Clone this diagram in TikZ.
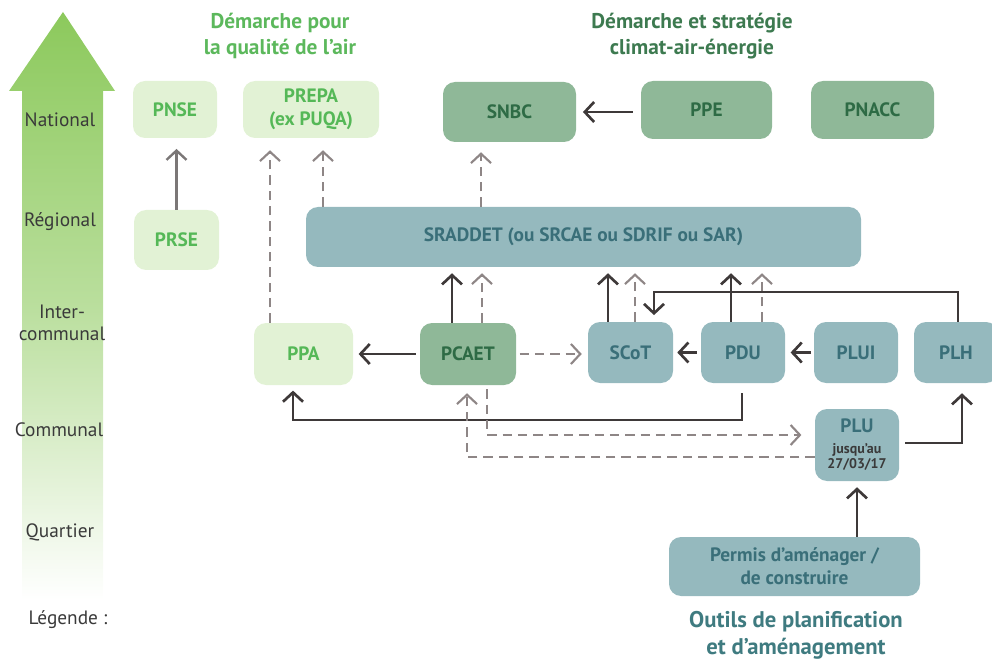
\documentclass[tikz,border=0pt]{standalone}
\usepackage{fontspec}
\setmainfont{PT Sans}
\usetikzlibrary{arrows.meta}
\definecolor{lgfill}{HTML}{E2F2D5}
\definecolor{lgtext}{HTML}{55B857}
\definecolor{mgfill}{HTML}{8FB898}
\definecolor{mgtext}{HTML}{2E6B45}
\definecolor{tlfill}{HTML}{95B9BE}
\definecolor{tltext}{HTML}{3A6F79}
\definecolor{hone}{HTML}{5CB85C}
\definecolor{htwo}{HTML}{3D7A50}
\definecolor{hthree}{HTML}{3F7B80}
\definecolor{arrdark}{HTML}{3E3939}
\definecolor{arrgray}{HTML}{8E8686}
\definecolor{arrlight}{HTML}{7B7777}
\definecolor{biggreen}{HTML}{8CC95C}
\definecolor{lvltext}{HTML}{3A3A3A}
\begin{document}
\begin{tikzpicture}[x=0.75pt,y=-0.75pt,
  box/.style={rounded corners=9pt, inner sep=0pt, align=center,
    font=\bfseries\fontsize{14.5}{17}\selectfont},
  lg/.style={box, fill=lgfill, text=lgtext},
  mg/.style={box, fill=mgfill, text=mgtext},
  tl/.style={box, fill=tlfill, text=tltext},
  sz/.style 2 args={minimum width=#1*0.75pt, minimum height=#2*0.75pt},
  lvl/.style={text=lvltext, align=center, font=\fontsize{14.5}{16.5}\selectfont},
  hdr/.style={align=center, font=\bfseries\fontsize{16}{20}\selectfont},
  solidarr/.style={draw=arrdark, line width=2pt, -{Straight Barb[length=7pt,width=15pt]}},
  lightarr/.style={draw=arrlight, line width=1.8pt, -{Straight Barb[length=7pt,width=15pt]}},
  dasharr/.style={draw=arrgray, line width=1.6pt, dash pattern=on 7pt off 4.5pt, -{Straight Barb[length=7pt,width=15pt]}}
]
\useasboundingbox (0,0) rectangle (992,659);
\clip (0,0) rectangle (992,659);

% big level arrow
\shade[top color=biggreen, bottom color=white, middle color=biggreen!60]
  (63,12) -- (115,91) -- (103,91) -- (103,600) -- (22,600) -- (22,91) -- (9,91) -- cycle;

% level labels
\node[lvl] (nat) at (60,120) {National};
\node[lvl] (reg) at (60,222) {Régional};
\node[lvl] (inter) at (62,323) {Inter-\\communal};
\node[lvl] (com) at (59,430) {Communal};
\node[lvl] (quart) at (60,532) {Quartier};
\node[lvl] (leg) at (68,620) {Légende :};

% headers
\node[hdr, text=hone] (h1) at (280,36) {Démarche pour\\la qualité de l’air};
\node[hdr, text=htwo] (h2) at (692,36) {Démarche et stratégie\\climat-air-énergie};
\node[hdr, text=hthree, font=\bfseries\fontsize{17}{20}\selectfont] (h3) at (796,635) {Outils de planification\\et d’aménagement};

% nodes
\node[lg, sz={84}{57}] (PNSE) at (175,109.5) {PNSE};
\node[lg, sz={136}{57}] (PREPA) at (311,109.5) {PREPA\\(ex PUQA)};
\node[lg, sz={85}{60}] (PRSE) at (176.5,240) {PRSE};
\node[mg, sz={133}{60}] (SNBC) at (509.5,112) {SNBC};
\node[mg, sz={131}{58}] (PPE) at (706.5,110) {PPE};
\node[mg, sz={123}{58}] (PNACC) at (872.5,110) {PNACC};
\node[tl, sz={555}{60}] (SRADDET) at (583.5,237) {SRADDET (ou SRCAE ou SDRIF ou SAR)};
\node[lg, sz={99}{62}] (PPA) at (303.5,354) {PPA};
\node[mg, sz={96}{62}] (PCAET) at (468,354) {PCAET};
\node[tl, sz={85}{61}] (SCoT) at (630.5,352.5) {SCoT};
\node[tl, sz={84}{61}] (PDU) at (743,352.5) {PDU};
\node[tl, sz={84}{61}] (PLUI) at (856,352.5) {PLUI};
\node[tl, sz={84}{61}] (PLH) at (956,352.5) {PLH};
\node[tl, sz={84}{72}] (PLU) at (857,445) {PLU\\[-1.5pt]{\color{lvltext}\fontsize{10.5}{11.5}\selectfont jusqu'au}\\[-5.5pt]{\color{lvltext}\fontsize{10.5}{11.5}\selectfont 27/03/17}};
\node[tl, sz={251}{59}] (Permis) at (794.5,566.5) {Permis d’aménager /\\de construire};

% connectors
\draw[lightarr, shorten >=8pt] (PRSE.north) -- (PRSE.north |- PNSE.south);
\draw[dasharr, shorten >=9pt] (270,0 |- PPA.north) -- (270,0 |- PREPA.south);
\draw[dasharr, shorten >=9pt] (323,0 |- SRADDET.north) -- (323,0 |- PREPA.south);
\draw[dasharr, shorten >=7.5pt] (481,0 |- SRADDET.north) -- (481,0 |- SNBC.south);
\draw[solidarr, shorten <=6pt, shorten >=5pt] (PPE.west |- SNBC.east) -- (SNBC.east);

\draw[solidarr, shorten >=4.5pt] (452,0 |- PCAET.north) -- (452,0 |- SRADDET.south);
\draw[dasharr, shorten >=4.5pt] (482,0 |- PCAET.north) -- (482,0 |- SRADDET.south);
\draw[solidarr, shorten >=4.5pt] (608,0 |- SCoT.north) -- (608,0 |- SRADDET.south);
\draw[dasharr, shorten >=4.5pt] (635,0 |- SCoT.north) -- (635,0 |- SRADDET.south);
\draw[solidarr, shorten >=4.5pt] (731,0 |- PDU.north) -- (731,0 |- SRADDET.south);
\draw[dasharr, shorten >=4.5pt] (762,0 |- PDU.north) -- (762,0 |- SRADDET.south);

\draw[solidarr, shorten >=5pt] (958,0 |- PLH.north) |- (654,292) -- (654,0 |- SCoT.north);

\draw[solidarr, shorten <=3pt, shorten >=4pt] (PCAET.west) -- (PPA.east);
\draw[dasharr, shorten <=2.5pt, shorten >=4.5pt] (PCAET.east) -- (PCAET.east -| SCoT.west);
\draw[solidarr, shorten <=3pt, shorten >=3pt] (PDU.west) -- (SCoT.east);
\draw[solidarr, shorten <=2pt, shorten >=4pt] (PLUI.west) -- (PDU.east);

\draw[solidarr, shorten <=7.5pt, shorten >=4pt] (742,0 |- PDU.south) |- (293,420) -- (293,0 |- PPA.south);
\draw[dasharr, shorten <=3pt, shorten >=10pt] (487,0 |- PCAET.south) |- ([yshift=7.5pt]PLU.west);
\draw[dasharr, shorten >=6pt] ([yshift=-9pt]PLU.west) -| (467,0 |- PCAET.south);
\draw[solidarr, shorten <=4.5pt, shorten >=7.5pt] ([yshift=1.5pt]PLU.east) -| (962,0 |- PLH.south);
\draw[solidarr, shorten >=4.5pt] (Permis.north -| PLU.south) -- (PLU.south);
\end{tikzpicture}
\end{document}
